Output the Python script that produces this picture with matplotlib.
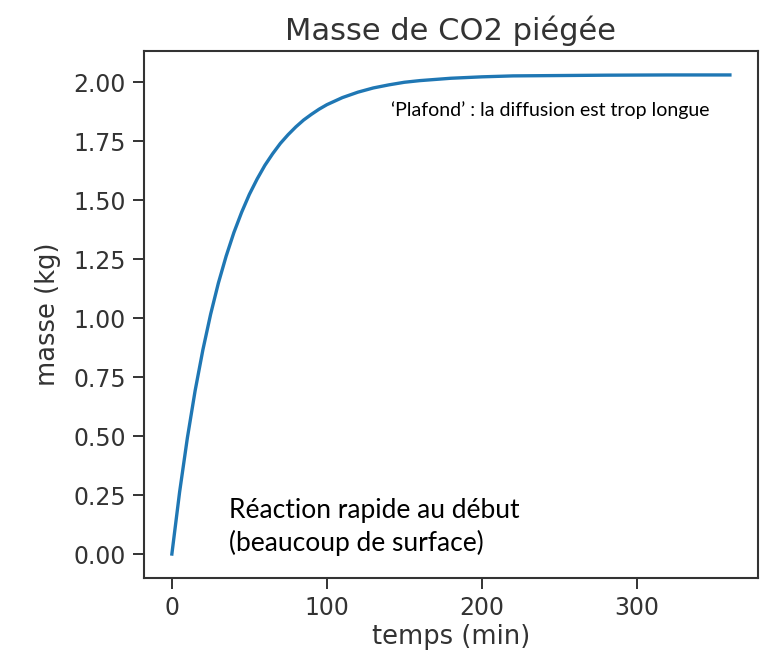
import matplotlib
matplotlib.use("Agg")
import matplotlib.pyplot as plt

# Data
temps_min = [0, 5, 10, 15, 20, 25, 30, 35, 40, 45, 50, 55, 60, 65, 70, 75,
             80, 85, 90, 95, 100, 110, 120, 130, 140, 150, 160, 180, 200,
             220, 240, 280, 320, 360]
masse_kg = [0.0, 0.263, 0.492, 0.692, 0.865, 1.016, 1.148, 1.262, 1.362,
            1.448, 1.524, 1.589, 1.647, 1.696, 1.740, 1.777, 1.810, 1.839,
            1.863, 1.885, 1.904, 1.934, 1.957, 1.975, 1.988, 1.999, 2.006,
            2.016, 2.022, 2.026, 2.027, 2.029, 2.030, 2.030]
x_ticks = [0, 100, 200, 300]
y_ticks = [0.00, 0.25, 0.50, 0.75, 1.00, 1.25, 1.50, 1.75, 2.00]

title = "Masse de CO2 piégée"
xlabel = "temps (min)"
ylabel = "masse (kg)"
note_top = "\u2018Plafond\u2019 : la diffusion est trop longue"
note_bottom = "Réaction rapide au début\n(beaucoup de surface)"

plt.rcParams['font.family'] = ['DejaVu Sans']

fig = plt.figure(figsize=(7.67, 6.58), dpi=100)
ax = fig.add_axes([0.1877, 0.1216, 0.8003, 0.8009])

ax.plot(temps_min, masse_kg, color="#1f77b4", lw=2.4)
ax.set_xticks(x_ticks)
ax.set_yticks(y_ticks)
ax.set_yticklabels([f"{v:.2f}" for v in y_ticks])
ax.margins(x=0.05, y=0.05)

txtc = "#333333"
ax.set_title(title, fontsize=22, color=txtc, pad=8)
ax.set_xlabel(xlabel, fontsize=18.5, color=txtc, labelpad=3)
ax.set_ylabel(ylabel, fontsize=18.5, color=txtc, labelpad=9)
ax.tick_params(labelsize=17, labelcolor=txtc, length=8, width=1.4, color="#333333", pad=5)
for s in ax.spines.values():
    s.set_linewidth(1.5)
    s.set_color("#333333")

ax.text(0.402, 0.888, note_top, transform=ax.transAxes, fontsize=14,
        family=["Lato", "DejaVu Sans"], color="black", va="center", ha="left")
ax.text(0.138, 0.041, note_bottom, transform=ax.transAxes, fontsize=19,
        family=["Lato", "DejaVu Sans"], color="black", va="bottom", ha="left",
        linespacing=1.35)

fig.savefig("out.png", dpi=100)
